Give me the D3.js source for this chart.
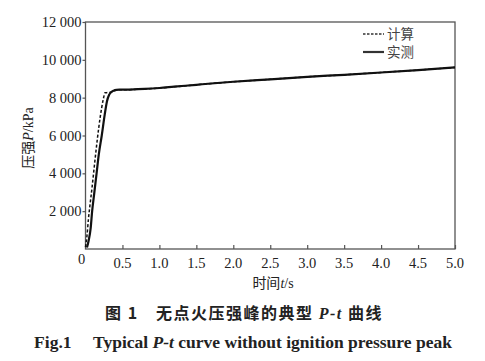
<html>
  <head>
    <script src="https://cdnjs.cloudflare.com/ajax/libs/d3/7.8.5/d3.min.js"></script>
    <style type="text/css">
        * { padding: 0px; margin: 0px; }
        body { background: white; }
        text { font-family: "Liberation Serif", "DejaVu Serif", serif; fill: #222; }
        .cjk { font-family: "Noto Sans CJK SC", sans-serif; }
    </style>
  </head>
  <body>
    <svg id="viz"></svg>
  </body>
</html>

<script language="javascript">

    // measured curve (实测)
    var tMeasured = [0.02, 0.04, 0.07, 0.09, 0.12, 0.15, 0.18, 0.22, 0.26, 0.29, 0.32, 0.35, 0.38, 0.42, 0.46, 0.5, 0.6, 0.8, 1.0, 1.2, 1.5, 1.7, 2.0, 2.5, 3.0, 3.5, 4.0, 4.5, 5.0];
    var pMeasured = [80, 400, 1100, 2000, 3000, 4000, 5000, 6000, 7100, 7800, 8150, 8300, 8370, 8410, 8420, 8420, 8430, 8460, 8510, 8580, 8680, 8750, 8840, 8970, 9100, 9210, 9330, 9460, 9600];

    // calculated curve (计算)
    var tCalc = [0.0, 0.02, 0.04, 0.06, 0.09, 0.12, 0.16, 0.2, 0.24, 0.265, 0.3, 0.35, 0.4, 0.45, 0.5, 1.0, 1.5, 2.0, 2.5, 3.0, 3.5, 4.0, 4.5, 5.0];
    var pCalc = [100, 700, 1600, 2300, 3300, 4400, 5800, 7000, 7900, 8260, 8270, 8300, 8380, 8420, 8420, 8510, 8680, 8840, 8970, 9100, 9210, 9330, 9460, 9600];

    var xTicks = [0.5, 1.0, 1.5, 2.0, 2.5, 3.0, 3.5, 4.0, 4.5, 5.0];
    var yTicks = [2000, 4000, 6000, 8000, 10000, 12000];
    var yTickLabels = ["2 000", "4 000", "6 000", "8 000", "10 000", "12 000"];

    var w = 485, h = 361;
    var plotLeft = 85.5, plotRight = 455, plotTop = 22, plotBottom = 249;

    var viz = d3.select("#viz")
        .attr("width", w)
        .attr("height", h);

    var x = d3.scaleLinear().domain([0, 5]).range([plotLeft, plotRight]);
    var y = d3.scaleLinear().domain([0, 12000]).range([plotBottom, plotTop]);

    // frame
    viz.append("rect")
        .attr("x", plotLeft)
        .attr("y", plotTop)
        .attr("width", plotRight - plotLeft)
        .attr("height", plotBottom - plotTop)
        .style("fill", "none")
        .style("stroke", "#555")
        .style("stroke-width", 1.3);

    // x axis, ticks pointing inward
    var xAxis = viz.append("g")
        .attr("transform", "translate(0," + plotBottom + ")")
        .call(d3.axisTop(x).tickValues(xTicks).tickSize(4).tickFormat(""));
    xAxis.select(".domain").remove();
    xAxis.selectAll("line").style("stroke", "#555").style("stroke-width", 1.2);

    viz.selectAll(".xlab")
        .data(xTicks)
        .enter().append("text")
        .attr("class", "xlab")
        .attr("x", (d) => x(d))
        .attr("y", plotBottom + 19)
        .attr("text-anchor", "middle")
        .style("font-size", "14.5px")
        .text((d) => d3.format(".1f")(d));

    viz.append("text")
        .attr("x", plotLeft - 4)
        .attr("y", plotBottom + 15)
        .attr("text-anchor", "middle")
        .style("font-size", "14.5px")
        .text("0");

    // y axis, ticks pointing outward
    var yAxis = viz.append("g")
        .attr("transform", "translate(" + plotLeft + ",0)")
        .call(d3.axisLeft(y).tickValues(yTicks).tickSize(3).tickFormat(""));
    yAxis.select(".domain").remove();
    yAxis.selectAll("line").style("stroke", "#555").style("stroke-width", 1.2);

    viz.selectAll(".ylab")
        .data(yTicks)
        .enter().append("text")
        .attr("class", "ylab")
        .attr("x", plotLeft - 4)
        .attr("y", (d) => y(d))
        .attr("dy", "0.35em")
        .attr("text-anchor", "end")
        .style("font-size", "14.5px")
        .text((d, i) => yTickLabels[i]);

    // axis titles
    var xt = viz.append("text")
        .attr("x", 273)
        .attr("y", 288)
        .attr("text-anchor", "middle")
        .style("font-size", "14px");
    xt.append("tspan").attr("class", "cjk").text("时间");
    xt.append("tspan").style("font-style", "italic").text("t");
    xt.append("tspan").text("/s");

    var yt = viz.append("text")
        .attr("transform", "translate(33,138) rotate(-90)")
        .attr("text-anchor", "middle")
        .style("font-size", "14px");
    yt.append("tspan").attr("class", "cjk").text("压强");
    yt.append("tspan").style("font-style", "italic").text("P");
    yt.append("tspan").text("/kPa");

    var line = d3.line()
        .x((p) => x(p[0]))
        .y((p) => y(p[1]))
        .curve(d3.curveMonotoneX);

    var calc = d3.zip(tCalc, pCalc);
    var meas = d3.zip(tMeasured, pMeasured);

    viz.append("path")
        .attr("d", line(meas))
        .style("fill", "none")
        .style("stroke", "#111")
        .style("stroke-width", 2.2);

    viz.append("path")
        .attr("d", line(calc))
        .style("fill", "none")
        .style("stroke", "#111")
        .style("stroke-width", 1.5)
        .style("stroke-dasharray", "3,2");

    // legend
    var legend = [
        { name: "计算", dash: "2.5,1.5", width: 1.5, y: 34 },
        { name: "实测", dash: null, width: 2.2, y: 52 }
    ];
    legend.forEach(function (l) {
        viz.append("line")
            .attr("x1", 363).attr("x2", 384)
            .attr("y1", l.y).attr("y2", l.y)
            .style("stroke", "#333")
            .style("stroke-width", l.width)
            .style("stroke-dasharray", l.dash);
        viz.append("text")
            .attr("class", "cjk")
            .attr("x", 387)
            .attr("y", l.y)
            .attr("dy", "0.36em")
            .style("font-size", "13.5px")
            .style("fill", "#444")
            .text(l.name);
    });

    // captions
    var c1 = viz.append("text")
        .attr("x", 244)
        .attr("y", 319)
        .attr("text-anchor", "middle")
        .style("font-size", "16px")
        .style("font-weight", "bold")
        .style("letter-spacing", "1.5px");
    c1.append("tspan").attr("class", "cjk").text("图 1　无点火压强峰的典型 ");
    c1.append("tspan").style("font-style", "italic").text("P-t");
    c1.append("tspan").attr("class", "cjk").text(" 曲线");

    var c2 = viz.append("text")
        .attr("x", 243)
        .attr("y", 348)
        .attr("text-anchor", "middle")
        .style("font-size", "17.5px")
        .style("font-weight", "bold");
    c2.append("tspan").text("Fig.1\u2003 Typical ");
    c2.append("tspan").style("font-style", "italic").text("P-t");
    c2.append("tspan").text(" curve without ignition pressure peak");
</script>
